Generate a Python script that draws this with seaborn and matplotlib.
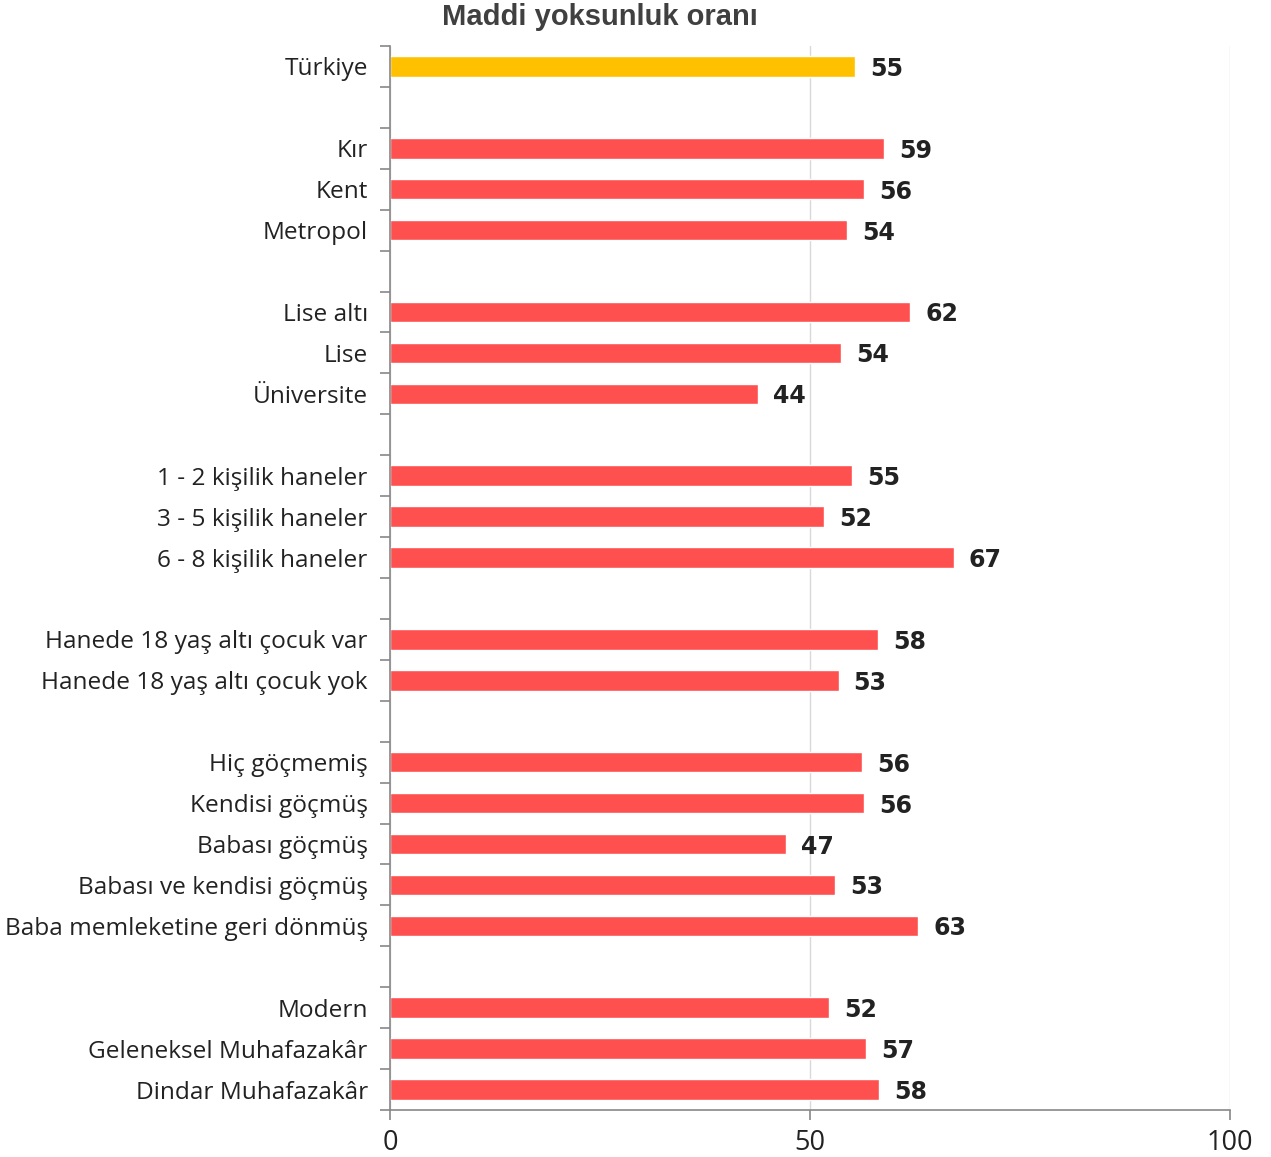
import matplotlib
matplotlib.use("Agg")
import matplotlib.pyplot as plt
import seaborn as sns
import pandas as pd
import numpy as np

categories = ["Türkiye", "", "Kır", "Kent", "Metropol", " ",
              "Lise altı", "Lise", "Üniversite", "  ",
              "1 - 2 kişilik haneler", "3 - 5 kişilik haneler", "6 - 8 kişilik haneler", "   ",
              "Hanede 18 yaş altı çocuk var", "Hanede 18 yaş altı çocuk yok", "    ",
              "Hiç göçmemiş", "Kendisi göçmüş", "Babası göçmüş", "Babası ve kendisi göçmüş",
              "Baba memleketine geri dönmüş", "     ",
              "Modern", "Geleneksel Muhafazakâr", "Dindar Muhafazakâr"]
values = [55.4, np.nan, 58.8, 56.4, 54.4, np.nan,
          61.9, 53.7, 43.8, np.nan,
          55.0, 51.7, 67.1, np.nan,
          58.1, 53.4, np.nan,
          56.2, 56.4, 47.1, 53.0, 62.9, np.nan,
          52.3, 56.7, 58.2]
labels = ["55", "", "59", "56", "54", "", "62", "54", "44", "",
          "55", "52", "67", "", "58", "53", "",
          "56", "56", "47", "53", "63", "", "52", "57", "58"]
groups = ["total"] + ["other"] * (len(categories) - 1)

df = pd.DataFrame({"cat": categories, "val": values, "grp": groups})

sns.set_style("white")
plt.rcParams['font.family'] = ['Open Sans', 'DejaVu Sans']

fig = plt.figure(figsize=(12.71, 11.57), dpi=100)
ax = fig.add_axes([390/1271, 1 - 1110/1157, (1230-390)/1271, (1110-46)/1157])

sns.barplot(data=df, x="val", y="cat", hue="grp", order=categories,
            palette={"total": "#FFC000", "other": "#FF5050"}, saturation=1,
            width=0.5, dodge=False, legend=False, ax=ax, orient="h")

ax.set_xlim(0, 100)
ax.set_ylim(len(categories) - 0.5, -0.5)
ax.set_xticks([0, 50, 100])
ax.set_xticklabels(["0", "50", "100"], fontsize=19.5, color="#222222")
ax.xaxis.grid(True, color="#D9D9D9", linewidth=1)
ax.set_axisbelow(True)
ax.set_xlabel("")
ax.set_ylabel("")

# category labels at centers, ticks at boundaries
ax.set_yticks(range(len(categories)))
ax.set_yticklabels([c.strip() for c in categories], fontsize=17.6, color="#222222")
ax.tick_params(axis="y", which="major", left=True, length=0, pad=16)
ax.set_yticks(np.arange(-0.5, len(categories)), minor=True)
ax.tick_params(axis="y", which="minor", left=True, length=7, width=1.2, color="#888888", direction="out")
ax.tick_params(axis="x", which="major", bottom=True, length=7, width=1.2, color="#888888", direction="out", pad=7)

for s in ["top", "right"]:
    ax.spines[s].set_visible(False)
for s in ["left", "bottom"]:
    ax.spines[s].set_color("#888888")
    ax.spines[s].set_linewidth(1.2)

for i, (v, lab) in enumerate(zip(values, labels)):
    if lab:
        ax.text(v + 1.8, i, lab, va="center_baseline", ha="left", fontsize=17,
                fontweight="heavy", family="DejaVu Sans", color="#222222")

fig.text(600/1271, 1 - 17/1157, "Maddi yoksunluk oranı", ha="center", va="center",
         fontsize=21, fontweight="bold", family="Liberation Sans", color="#404040")

fig.savefig("out.png", dpi=100)
